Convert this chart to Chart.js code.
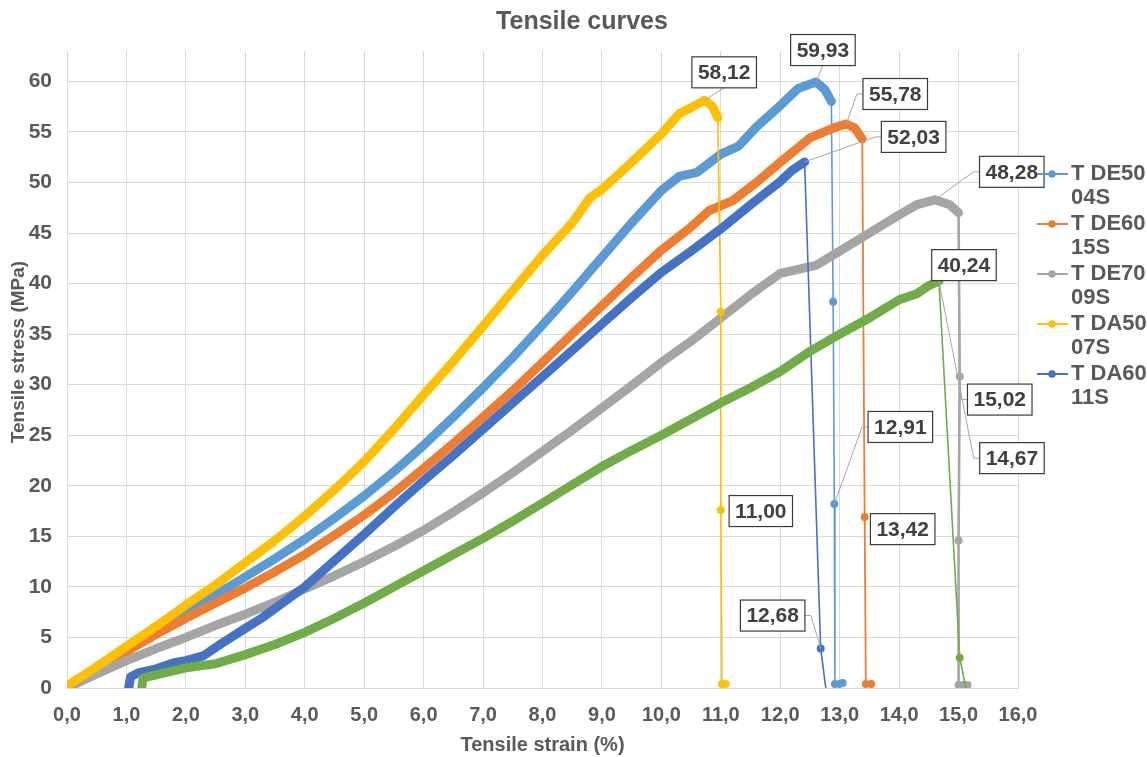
<!DOCTYPE html>
<html>
<head>
<meta charset="utf-8">
<title>Tensile curves</title>
<script src="https://cdn.jsdelivr.net/npm/chart.js@4"></script>
<style>
  html, body { margin: 0; padding: 0; background: #fff; }
  #wrap { width: 1147px; height: 757px; position: relative; }
</style>
</head>
<body>
<div id="wrap"><canvas id="tensileChart"></canvas></div>
<script>
// axis ticks
const strainTicks = [0, 1, 2, 3, 4, 5, 6, 7, 8, 9, 10, 11, 12, 13, 14, 15, 16];
const stressTicks = [0, 5, 10, 15, 20, 25, 30, 35, 40, 45, 50, 55, 60];

const seriesLabels = ['T DE50 04S', 'T DE60 15S', 'T DE70 09S', 'T DA50 07S', 'T DA60 11S', ''];
const seriesColors = ['#5B9BD5', '#ED7D31', '#A5A5A5', '#FFC000', '#4472C4', '#70AD47'];

// T DE50 04S - loading part, then the break
const de50Strain = [0.0, 0.5, 1.0, 1.5, 2.0, 2.5, 3.0, 3.5, 4.0, 4.5, 5.0, 5.5, 6.0, 6.5, 7.0, 7.5, 8.0, 8.5, 9.0, 9.5, 10.0, 10.3, 10.6, 11.0, 11.3, 11.6, 12.0, 12.3, 12.6, 12.75, 12.86];
const de50Stress = [0.1, 1.9, 3.8, 5.6, 7.4, 9.2, 11.0, 12.8, 14.7, 16.8, 19.0, 21.4, 24.0, 26.8, 29.7, 32.7, 35.9, 39.2, 42.6, 46.0, 49.2, 50.6, 51.0, 52.8, 53.6, 55.5, 57.6, 59.3, 59.93, 59.2, 58.0];
const de50DropStrain = [12.89, 12.91, 12.92, 13.0, 13.05];
const de50DropStress = [38.2, 18.2, 0.4, 0.4, 0.5];

// T DE60 15S
const de60Strain = [0.0, 0.5, 1.0, 1.5, 2.0, 2.5, 3.0, 3.5, 4.0, 4.5, 5.0, 5.5, 6.0, 6.5, 7.0, 7.5, 8.0, 8.5, 9.0, 9.5, 10.0, 10.5, 10.8, 11.2, 11.6, 12.0, 12.5, 12.9, 13.11, 13.25, 13.38];
const de60Stress = [0.1, 1.8, 3.6, 5.3, 6.9, 8.4, 9.9, 11.5, 13.2, 15.1, 17.1, 19.3, 21.7, 24.2, 26.8, 29.4, 32.2, 35.0, 37.8, 40.6, 43.3, 45.6, 47.2, 48.2, 50.0, 52.0, 54.4, 55.4, 55.78, 55.4, 54.3];
const de60DropStrain = [13.42, 13.44, 13.53];
const de60DropStress = [16.9, 0.4, 0.4];

// T DE70 09S
const de70Strain = [0.0, 0.5, 1.0, 1.5, 2.0, 2.5, 3.0, 3.5, 4.0, 4.5, 5.0, 5.5, 6.0, 6.5, 7.0, 7.5, 8.0, 8.5, 9.0, 9.5, 10.0, 10.5, 11.0, 11.5, 12.0, 12.3, 12.6, 13.0, 13.5, 14.0, 14.3, 14.6, 14.85, 15.0];
const de70Stress = [0.0, 1.4, 2.7, 3.9, 5.0, 6.2, 7.3, 8.5, 9.8, 11.1, 12.5, 14.0, 15.6, 17.4, 19.3, 21.3, 23.4, 25.5, 27.7, 29.9, 32.2, 34.3, 36.6, 38.9, 41.0, 41.4, 41.8, 43.2, 45.0, 46.8, 47.8, 48.28, 47.8, 47.0];
const de70DropStrain = [15.02, 15.0, 15.0, 15.08, 15.15];
const de70DropStress = [30.8, 14.6, 0.3, 0.3, 0.3];

// T DA50 07S
const da50Strain = [0.0, 0.5, 1.0, 1.5, 2.0, 2.5, 3.0, 3.5, 4.0, 4.5, 5.0, 5.5, 6.0, 6.5, 7.0, 7.5, 8.0, 8.5, 8.8, 9.0, 9.5, 10.0, 10.3, 10.5, 10.72, 10.85, 10.95];
const da50Stress = [0.2, 2.1, 4.1, 6.1, 8.2, 10.2, 12.4, 14.6, 17.0, 19.6, 22.4, 25.6, 29.0, 32.3, 35.8, 39.3, 42.8, 46.0, 48.5, 49.3, 52.0, 54.8, 56.8, 57.4, 58.12, 57.6, 56.4];
const da50DropStrain = [11.0, 11.0, 11.02, 11.08];
const da50DropStress = [37.2, 17.6, 0.4, 0.4];

// T DA60 11S
const da60Strain = [1.04, 1.07, 1.2, 1.5, 1.8, 2.0, 2.3, 2.6, 3.0, 3.3, 3.6, 4.0, 4.5, 5.0, 5.5, 6.0, 6.5, 7.0, 7.5, 8.0, 8.5, 9.0, 9.5, 10.0, 10.5, 11.0, 11.5, 12.0, 12.2, 12.41];
const da60Stress = [0.1, 1.1, 1.5, 1.9, 2.5, 2.7, 3.2, 4.4, 5.9, 7.0, 8.3, 10.0, 12.6, 15.2, 17.9, 20.5, 23.0, 25.6, 28.2, 30.8, 33.4, 36.0, 38.6, 41.1, 43.2, 45.4, 47.8, 50.1, 51.2, 52.03];
const da60DropStrain = [12.68, 12.8];
const da60DropStress = [3.9, -1.5];

// sixth specimen (green)
const greenStrain = [1.26, 1.28, 1.5, 2.0, 2.5, 3.0, 3.5, 4.0, 4.5, 5.0, 5.5, 6.0, 6.5, 7.0, 7.5, 8.0, 8.5, 9.0, 9.5, 10.0, 10.5, 11.0, 11.5, 12.0, 12.5, 13.0, 13.5, 14.0, 14.3, 14.5, 14.67];
const greenStress = [0.1, 1.0, 1.3, 2.0, 2.4, 3.3, 4.3, 5.5, 6.9, 8.4, 10.0, 11.6, 13.2, 14.8, 16.5, 18.3, 20.1, 21.9, 23.5, 25.0, 26.6, 28.2, 29.7, 31.3, 33.3, 35.0, 36.6, 38.4, 39.0, 39.8, 40.24];
const greenDropStrain = [15.02, 15.15];
const greenDropStress = [3.0, -0.8];

const curves = [
    { strain: de50Strain, stress: de50Stress, dropStrain: de50DropStrain, dropStress: de50DropStress, thin: 1.6 },
    { strain: de60Strain, stress: de60Stress, dropStrain: de60DropStrain, dropStress: de60DropStress, thin: 1.8 },
    { strain: de70Strain, stress: de70Stress, dropStrain: de70DropStrain, dropStress: de70DropStress, thin: 2.6 },
    { strain: da50Strain, stress: da50Stress, dropStrain: da50DropStrain, dropStress: da50DropStress, thin: 1.6 },
    { strain: da60Strain, stress: da60Stress, dropStrain: da60DropStrain, dropStress: da60DropStress, thin: 1.6 },
    { strain: greenStrain, stress: greenStress, dropStrain: greenDropStrain, dropStress: greenDropStress, thin: 1.6 }
];

// value boxes: peak stress or strain at break; dx/dy = box centre offset in px
const labelSpots = [
    { series: 3, peak: true, show: 'y', dx: 20, dy: -28, leader: true },
    { series: 0, peak: true, show: 'y', dx: 7, dy: -32, leader: true },
    { series: 1, peak: true, show: 'y', dx: 49, dy: -30, leader: true },
    { series: 4, peak: true, show: 'y', dx: 109, dy: -25, leader: true },
    { series: 2, peak: true, show: 'y', dx: 77, dy: -28, leader: true },
    { series: 5, peak: true, show: 'y', dx: 25, dy: -16, leader: false },
    { series: 3, drop: 1, show: 'x', dx: 40, dy: 1, leader: false },
    { series: 0, drop: 1, show: 'x', dx: 66, dy: -77, leader: true },
    { series: 1, drop: 0, show: 'x', dx: 38, dy: 12, leader: false },
    { series: 4, drop: 0, show: 'x', dx: -48, dy: -33, leader: true },
    { series: 2, drop: 0, show: 'x', dx: 40, dy: 23, leader: true },
    { series: 5, peak: true, show: 'x', dx: 73, dy: 177, leader: true }
];

const FONT = '"Liberation Sans", Arial, sans-serif';
const TEXT_GREY = '#595959';
const BAND = 9;

function comma(v, digits) {
    return v.toFixed(digits).replace('.', ',');
}

const datasets = curves.map((c, i) => {
    const bandEnd = c.strain.length - 1;
    const xs = c.strain.concat(c.dropStrain);
    const ys = c.stress.concat(c.dropStress);
    return {
        label: seriesLabels[i],
        data: xs.map((x, k) => ({ x: x, y: ys[k] })),
        borderColor: seriesColors[i],
        backgroundColor: seriesColors[i],
        borderWidth: BAND,
        borderCapStyle: 'round',
        borderJoinStyle: 'round',
        tension: 0,
        pointRadius: ctx => ctx.dataIndex > bandEnd ? 4 : 0,
        pointHoverRadius: ctx => ctx.dataIndex > bandEnd ? 4 : 0,
        pointBorderWidth: 0,
        pointBackgroundColor: seriesColors[i],
        segment: {
            borderWidth: ctx => ctx.p0DataIndex >= bandEnd ? c.thin : BAND
        },
        order: curves.length - i,
        bandEnd: bandEnd
    };
});

// title, y axis title and the legend on the right
const chartText = {
    id: 'chartText',
    afterDraw(chart) {
        const ctx = chart.ctx;
        ctx.save();
        ctx.fillStyle = TEXT_GREY;
        ctx.textAlign = 'center';
        ctx.textBaseline = 'middle';
        ctx.font = 'bold 25px ' + FONT;
        ctx.fillText('Tensile curves', 582, 22);

        ctx.save();
        ctx.translate(19, 352);
        ctx.rotate(-Math.PI / 2);
        ctx.font = 'bold 19px ' + FONT;
        ctx.fillText('Tensile stress (MPa)', 0, 0);
        ctx.restore();

        ctx.font = 'bold 22px ' + FONT;
        ctx.textAlign = 'left';
        let row = 0;
        seriesLabels.forEach((label, i) => {
            if (!label) return;
            const y = 174 + row * 50;
            ctx.strokeStyle = seriesColors[i];
            ctx.lineWidth = 2;
            ctx.beginPath();
            ctx.moveTo(1037, y);
            ctx.lineTo(1068, y);
            ctx.stroke();
            ctx.fillStyle = seriesColors[i];
            ctx.beginPath();
            ctx.arc(1052, y, 3.8, 0, Math.PI * 2);
            ctx.fill();
            const cut = label.lastIndexOf(' ');
            ctx.fillStyle = TEXT_GREY;
            ctx.fillText(label.slice(0, cut), 1071, y);
            ctx.fillText(label.slice(cut + 1), 1071, y + 24);
            row++;
        });
        ctx.restore();
    }
};

// boxed value labels with leader lines
const valueBoxes = {
    id: 'valueBoxes',
    afterDatasetsDraw(chart) {
        const ctx = chart.ctx;
        ctx.save();
        ctx.font = 'bold 21px ' + FONT;
        labelSpots.forEach(spot => {
            const c = curves[spot.series];
            let idx;
            if (spot.peak) {
                idx = c.stress.indexOf(Math.max.apply(null, c.stress));
            } else {
                idx = c.strain.length + spot.drop;
            }
            const el = chart.getDatasetMeta(spot.series).data[idx];
            const pt = chart.data.datasets[spot.series].data[idx];
            const text = comma(spot.show === 'x' ? pt.x : pt.y, 2);
            const w = ctx.measureText(text).width + 12;
            const h = 31;
            const cx = el.x + spot.dx;
            const cy = el.y + spot.dy;
            const left = cx - w / 2;
            const top = cy - h / 2;

            if (spot.leader) {
                ctx.strokeStyle = '#A6A6A6';
                ctx.lineWidth = 1;
                ctx.beginPath();
                if (Math.abs(spot.dx) < w / 2) {
                    const ay = spot.dy < 0 ? top + h : top;
                    ctx.moveTo(cx, ay);
                    ctx.lineTo(el.x, el.y);
                } else {
                    const ax = spot.dx > 0 ? left : left + w;
                    const stub = spot.dx > 0 ? -6 : 6;
                    ctx.moveTo(ax, cy);
                    ctx.lineTo(ax + stub, cy);
                    ctx.lineTo(el.x, el.y);
                }
                ctx.stroke();
            }

            ctx.fillStyle = '#ffffff';
            ctx.fillRect(left, top, w, h);
            ctx.strokeStyle = '#3a3a3a';
            ctx.lineWidth = 1.2;
            ctx.strokeRect(left, top, w, h);
            ctx.fillStyle = '#404040';
            ctx.textAlign = 'center';
            ctx.textBaseline = 'middle';
            ctx.fillText(text, cx, cy + 1);
        });
        ctx.restore();
    }
};

new Chart(document.getElementById('tensileChart'), {
    type: 'line',
    data: { datasets: datasets },
    options: {
        responsive: true,
        maintainAspectRatio: false,
        animation: false,
        events: [],
        layout: { padding: { top: 51, right: 129, bottom: 0, left: 0 } },
        plugins: {
            legend: { display: false },
            title: { display: false },
            tooltip: { enabled: false }
        },
        scales: {
            x: {
                type: 'linear',
                min: 0,
                max: 16,
                afterBuildTicks: scale => { scale.ticks = strainTicks.map(v => ({ value: v })); },
                afterFit: scale => { scale.height = 69; },
                grid: { color: '#D9D9D9', drawTicks: false },
                border: { color: '#D9D9D9' },
                ticks: {
                    padding: 15,
                    color: TEXT_GREY,
                    font: { family: FONT, size: 20, weight: 'bold' },
                    callback: v => comma(v, 1)
                },
                title: {
                    display: true,
                    text: 'Tensile strain (%)',
                    color: TEXT_GREY,
                    font: { family: FONT, size: 20, weight: 'bold' },
                    padding: { top: 0, bottom: 0 }
                }
            },
            y: {
                type: 'linear',
                min: 0,
                max: 63,
                afterBuildTicks: scale => { scale.ticks = stressTicks.map(v => ({ value: v })); },
                afterFit: scale => { scale.width = 67; },
                grid: { color: '#D9D9D9', drawTicks: false },
                border: { color: '#D9D9D9' },
                ticks: {
                    padding: 15,
                    color: TEXT_GREY,
                    font: { family: FONT, size: 21, weight: 'bold' }
                }
            }
        }
    },
    plugins: [valueBoxes, chartText]
});
</script>
</body>
</html>
